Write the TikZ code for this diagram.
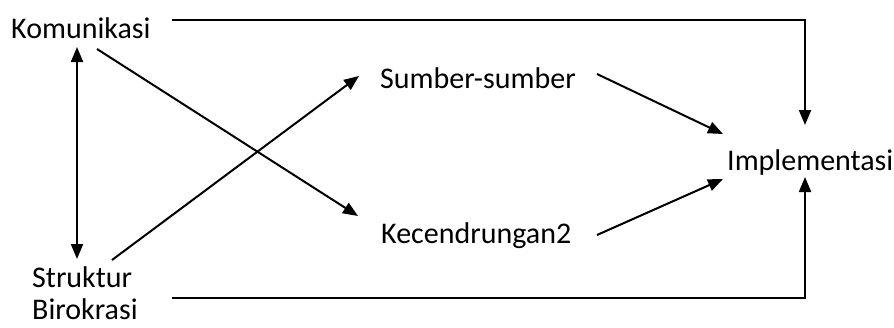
\documentclass[tikz,border=0pt]{standalone}
\usepackage{fontspec}
\setmainfont{Carlito}
\usetikzlibrary{arrows.meta}
\begin{document}
\begin{tikzpicture}[x=1pt,y=-1pt,
  lbl/.style={inner sep=0pt, anchor=west, font=\fontsize{30}{32}\selectfont},
  conn/.style={line width=2pt, -{Triangle[length=15pt,width=12pt]}},
  plain/.style={line width=2pt}]
\useasboundingbox (0,0) rectangle (894,327);
\node[lbl] (kom) at (11,28) {Komunikasi};
\node[lbl, align=left] (str) at (32,293) {Struktur\\Birokrasi};
\node[lbl] (sum) at (380,78) {Sumber-sumber};
\node[lbl] (kec) at (381,236) {Kecendrungan2};
\node[lbl] (imp) at (727,162) {Implementasi};
% endpoints
\coordinate (kt) at (172,20);
\coordinate (tr) at (805,20);
\coordinate (it) at (805,125);
\coordinate (sb) at (172,298);
\coordinate (br) at (805,298);
\coordinate (ib) at (805,177);
\coordinate (v1) at (77,47);
\coordinate (v2) at (77,259);
\coordinate (ka) at (97,49);
\coordinate (kb) at (358,216);
\coordinate (sa) at (112,260);
\coordinate (sb2) at (359,76);
\coordinate (ua) at (597,74);
\coordinate (ub) at (723,134);
\coordinate (ea) at (597,235);
\coordinate (eb) at (723,179);
\draw[conn] (kt) -- (tr) -- (it);
\draw[conn] (sb) -- (br) -- (ib);
\draw[plain, {Triangle[length=15pt,width=12pt]}-{Triangle[length=15pt,width=12pt]}] (v1) -- (v2);
\draw[conn] (ka) -- (kb);
\draw[conn] (sa) -- (sb2);
\draw[conn] (ua) -- (ub);
\draw[conn] (ea) -- (eb);
\end{tikzpicture}
\end{document}
